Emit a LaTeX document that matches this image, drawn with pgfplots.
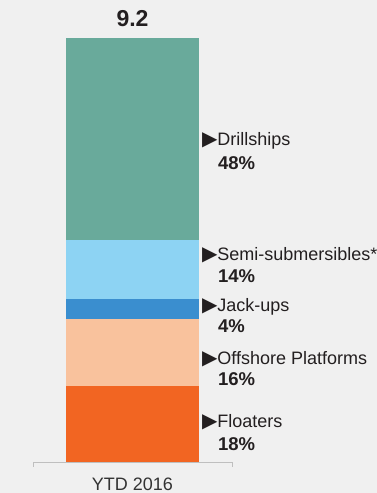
\documentclass[border=0pt]{standalone}
\usepackage{fontspec}
\setmainfont{Liberation Sans}
\newfontfamily\dejavu{DejaVu Sans}
\usepackage{pgfplots}
\pgfplotsset{compat=1.18}
\definecolor{bgcol}{HTML}{F0F0F0}
\definecolor{axcol}{HTML}{BFBFBF}
\definecolor{txtcol}{HTML}{231F20}
\definecolor{ticktxt}{HTML}{333333}
\definecolor{cDrill}{HTML}{69AA9B}
\definecolor{cSemi}{HTML}{8DD3F3}
\definecolor{cJack}{HTML}{3A8ECF}
\definecolor{cOff}{HTML}{F9C29D}
\definecolor{cFloat}{HTML}{F26522}
\newcommand{\nm}{\fontsize{18}{20}\selectfont}
\newcommand{\pc}{\fontsize{18.5}{20}\selectfont\bfseries}
\newcommand{\arr}{{\dejavu\fontsize{20}{22}\selectfont ▶}}
\tikzset{lab/.style={anchor=base west, inner sep=0pt, text=txtcol}}
\begin{document}
\begin{tikzpicture}
\fill[bgcol] (0,0) rectangle (377pt,493pt);
\useasboundingbox (0,0) rectangle (377pt,493pt);
\begin{axis}[
  at={(33pt,31pt)}, anchor=south west,
  scale only axis, width=199pt, height=424pt,
  xmin=-0.75, xmax=0.75, ymin=0, ymax=9.2,
  ybar stacked, bar width=133pt,
  axis y line=none, axis x line*=bottom,
  x axis line style={draw=axcol, line width=0.9pt, -},
  xtick={0}, xticklabels={YTD 2016},
  xtick style={draw=none},
  xticklabel style={anchor=base, yshift=-28pt, font=\nm, text=ticktxt},
  clip=false,
]
\addplot[fill=cFloat, draw=none] coordinates {(0,1.65)};
\addplot[fill=cOff, draw=none] coordinates {(0,1.45)};
\addplot[fill=cJack, draw=none] coordinates {(0,0.43)};
\addplot[fill=cSemi, draw=none] coordinates {(0,1.28)};
\addplot[fill=cDrill, draw=none] coordinates {(0,4.39)};
\draw[axcol, line width=0.9pt] (axis cs:-0.75,0) -- ([yshift=-5pt]axis cs:-0.75,0);
\draw[axcol, line width=0.9pt] (axis cs:0.75,0) -- ([yshift=-5pt]axis cs:0.75,0);
\node[anchor=base, text=txtcol, font=\fontsize{23}{25}\selectfont\bfseries, inner sep=0pt] at (axis cs:0,9.2) [yshift=12pt] {9.2};
\node[lab] at (axis cs:0.5,6.863) [xshift=3pt] {\arr\nm Drillships};
\node[lab] at (axis cs:0.5,6.357) [xshift=19pt] {\pc 48\%};
\node[lab] at (axis cs:0.5,4.383) [xshift=3pt] {\arr\nm Semi-submersibles*};
\node[lab] at (axis cs:0.5,3.899) [xshift=19pt] {\pc 14\%};
\node[lab] at (axis cs:0.5,3.261) [xshift=3pt] {\arr\nm Jack-ups};
\node[lab] at (axis cs:0.5,2.806) [xshift=19pt] {\pc 4\%};
\node[lab] at (axis cs:0.5,2.126) [xshift=3pt] {\arr\nm Offshore Platforms};
\node[lab] at (axis cs:0.5,1.656) [xshift=19pt] {\pc 16\%};
\node[lab] at (axis cs:0.5,0.738) [xshift=3pt] {\arr\nm Floaters};
\node[lab] at (axis cs:0.5,0.260) [xshift=19pt] {\pc 18\%};
\end{axis}
\end{tikzpicture}
\end{document}
